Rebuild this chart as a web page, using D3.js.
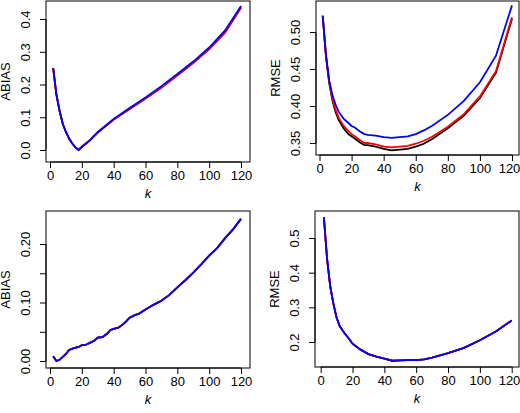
<!DOCTYPE html>
<html><head><meta charset="utf-8">
<script src="https://cdn.jsdelivr.net/npm/d3@7"></script>
<style>body{margin:0;background:#fff}text{font-family:"Liberation Sans",Arial,sans-serif;font-size:13px}</style>
</head><body>
<script>
// top-left: ABIAS
var kA = [2,4,6,8,10,12,14,16,18,20,25,30,35,40,50,60,70,80,90,100,110,120];
var abiasBlue = [0.25,0.17,0.12,0.08,0.055,0.035,0.02,0.008,0.0,0.01,0.03,0.055,0.075,0.095,0.128,0.16,0.195,0.232,0.27,0.313,0.365,0.44];
var abiasRed = [0.25,0.17,0.12,0.08,0.055,0.035,0.02,0.008,0.0,0.009,0.029,0.053,0.073,0.093,0.125,0.157,0.191,0.228,0.266,0.308,0.359,0.435];
var abiasBlack = abiasRed;
// top-right: RMSE
var kR = [2,4,6,8,10,12,15,18,20,22,25,28,30,35,40,45,50,55,60,65,70,80,90,100,110,120];
var rmseBlue = [0.522,0.47,0.435,0.415,0.402,0.392,0.383,0.377,0.373,0.371,0.366,0.362,0.361,0.360,0.358,0.357,0.358,0.359,0.362,0.367,0.373,0.388,0.407,0.432,0.468,0.536];
var rmseRed = [0.522,0.468,0.433,0.41,0.395,0.384,0.373,0.366,0.362,0.359,0.354,0.35,0.35,0.348,0.345,0.344,0.345,0.346,0.349,0.353,0.358,0.372,0.389,0.413,0.447,0.52];
var rmseBlack = [0.522,0.468,0.432,0.408,0.392,0.381,0.37,0.362,0.359,0.356,0.351,0.347,0.347,0.345,0.342,0.34,0.341,0.342,0.345,0.349,0.355,0.37,0.387,0.411,0.445,0.518];
// bottom-left: ABIAS
var kB = [2,4,6,8,10,12,15,18,20,22,25,28,30,33,36,38,40,43,46,48,50,53,56,60,65,70,75,80,85,90,95,100,105,110,115,120];
var abias2 = [0.008,0.0,0.002,0.007,0.012,0.019,0.022,0.024,0.027,0.027,0.031,0.035,0.04,0.041,0.047,0.053,0.055,0.057,0.063,0.068,0.074,0.078,0.081,0.088,0.096,0.103,0.113,0.126,0.138,0.151,0.165,0.18,0.193,0.21,0.225,0.243];
// bottom-right: RMSE
var kC = [2,4,6,8,10,12,15,18,20,25,30,35,40,45,50,55,60,65,70,80,90,100,110,120];
var rmse2 = [0.56,0.44,0.36,0.31,0.27,0.245,0.225,0.208,0.195,0.178,0.165,0.158,0.152,0.146,0.147,0.148,0.148,0.150,0.155,0.168,0.183,0.205,0.230,0.262];
var xTicks = [0,20,40,60,80,100,120];

var panels = [
  {box:[46,1,250,162], x:[50,241], yd:[0,0.4], yr:[150,19], yt:[0,0.1,0.2,0.3,0.4], lab:[0,0.1,0.2,0.3,0.4], fmt:".1f", ylab:"ABIAS",
   k:kA, series:[abiasBlack,abiasRed,abiasBlue]},
  {box:[316,1,519,155], x:[319.5,512], yd:[0.35,0.5], yr:[143,32], yt:[0.35,0.4,0.45,0.5], lab:[0.35,0.4,0.45,0.5], fmt:".2f", ylab:"RMSE",
   k:kR, series:[rmseBlack,rmseRed,rmseBlue]},
  {box:[46,211,250,368], x:[50,241], yd:[0,0.2], yr:[361,244], yt:[0,0.05,0.1,0.15,0.2], lab:[0,0.1,0.2], fmt:".2f", ylab:"ABIAS",
   k:kB, series:[abias2,abias2,abias2]},
  {box:[315,211,519,367], x:[320.7,511.7], yd:[0.2,0.5], yr:[342,238], yt:[0.2,0.3,0.4,0.5], lab:[0.2,0.3,0.4,0.5], fmt:".1f", ylab:"RMSE",
   k:kC, series:[rmse2,rmse2,rmse2]}
];
var colors = ["#000000","#ff0000","#0000ff"];

var svg = d3.select("body").append("svg").attr("width",520).attr("height",413);

panels.forEach(function(p){
  var x = d3.scaleLinear().domain([0,120]).range(p.x);
  var y = d3.scaleLinear().domain(p.yd).range(p.yr);
  var g = svg.append("g");
  var b = p.box;
  g.append("rect").attr("x",b[0]).attr("y",b[1]).attr("width",b[2]-b[0]).attr("height",b[3]-b[1])
    .attr("fill","none").attr("stroke","#000").attr("stroke-width",1);
  var xa = g.append("g").attr("transform","translate(0,"+b[3]+")")
    .call(d3.axisBottom(x).tickValues(xTicks).tickSize(6).tickPadding(3));
  var ya = g.append("g").attr("transform","translate("+b[0]+",0)")
    .call(d3.axisLeft(y).tickValues(p.yt).tickSize(6).tickPadding(3)
      .tickFormat(function(d){ return p.lab.some(function(v){return Math.abs(v-d)<1e-9;}) ? d3.format(p.fmt)(d) : ""; }));
  [xa,ya].forEach(function(a){
    a.select(".domain").remove();
    a.selectAll("text").attr("fill","#000").style("font-size","13px").style("font-family","Liberation Sans, Arial, sans-serif");
    a.selectAll("line").attr("stroke","#000");
  });
  // keep the last x label inside the window
  xa.selectAll(".tick text").filter(function(d){ return x(d) + 11 > 520; })
    .attr("dx", function(d){ return (520 - 11 - x(d)) + "px"; });
  g.append("line").attr("x1",x(0)).attr("x2",x(120)).attr("y1",b[3]).attr("y2",b[3]).attr("stroke","#000");
  g.append("line").attr("x1",b[0]).attr("x2",b[0]).attr("y1",y(p.yt[0])).attr("y2",y(p.yt[p.yt.length-1])).attr("stroke","#000");
  ya.selectAll(".tick text").attr("transform","rotate(-90)")
    .attr("x",0).attr("y",-16).attr("dy","0").style("text-anchor","middle");
  g.append("text").attr("x",(b[0]+b[2])/2).attr("y",b[3]+36).attr("text-anchor","middle")
    .style("font-style","italic").text("k");
  g.append("text").attr("transform","translate("+(b[0]-36)+","+((b[1]+b[3])/2)+") rotate(-90)")
    .attr("text-anchor","middle").text(p.ylab);
  var line = d3.line().x(function(d,i){return x(p.k[i]);}).y(function(d){return y(d);});
  p.series.forEach(function(s,i){
    g.append("path").datum(s).attr("d",line).attr("fill","none").attr("stroke",colors[i]).attr("stroke-width",1.8);
  });
});
</script>
</body></html>
